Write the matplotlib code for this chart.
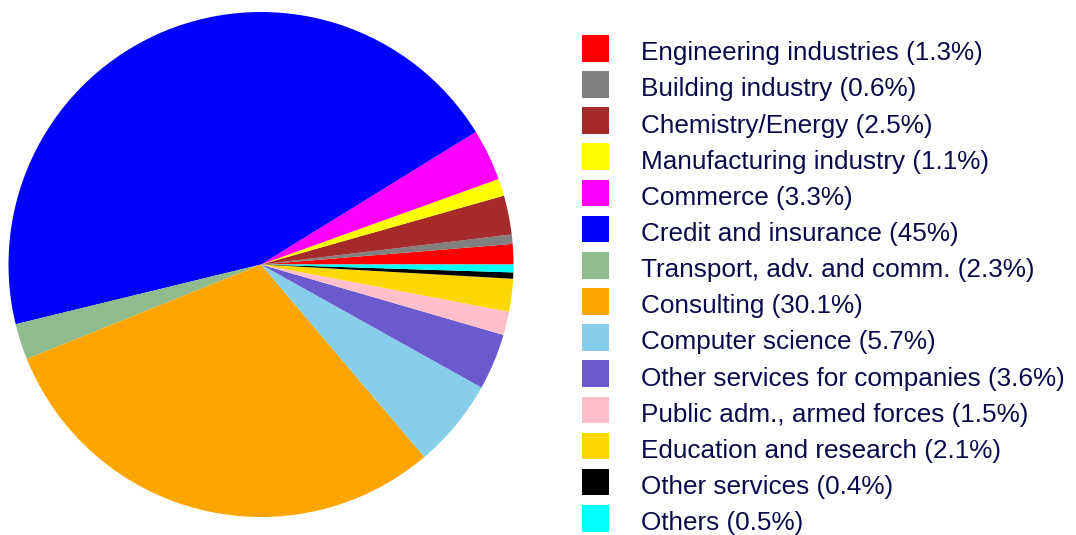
import matplotlib
matplotlib.use("Agg")
import matplotlib.pyplot as plt
from matplotlib.patches import Rectangle

labels = ["Engineering industries", "Building industry", "Chemistry/Energy",
          "Manufacturing industry", "Commerce", "Credit and insurance",
          "Transport, adv. and comm.", "Consulting", "Computer science",
          "Other services for companies", "Public adm., armed forces",
          "Education and research", "Other services", "Others"]
values = [1.3, 0.6, 2.5, 1.1, 3.3, 45, 2.3, 30.1, 5.7, 3.6, 1.5, 2.1, 0.4, 0.5]
value_labels = ["1.3%", "0.6%", "2.5%", "1.1%", "3.3%", "45%", "2.3%", "30.1%",
                "5.7%", "3.6%", "1.5%", "2.1%", "0.4%", "0.5%"]
colors = ["#FF0000", "#808080", "#A52A2A", "#FFFF00", "#FF00FF", "#0000FF",
          "#8FBC8F", "#FFA500", "#87CEEB", "#6A5ACD", "#FFC0CB", "#FFD700",
          "#000000", "#00FFFF"]

W, H = 1076, 535
fig = plt.figure(figsize=(W / 100, H / 100), dpi=100)

cx, cy, r = 261, 264.5, 252.5
ax = fig.add_axes([(cx - r) / W, (H - cy - r) / H, 2 * r / W, 2 * r / H])
ax.pie(values, colors=colors, startangle=0, counterclock=True,
       wedgeprops=dict(linewidth=0))
ax.set_xlim(-1, 1)
ax.set_ylim(-1, 1)
ax.set_aspect("auto")
ax.axis("off")

text_color = "#0a0a4a"
top0, dy, sq = 35, 36.15, 26.7
for i, (lab, vl, c) in enumerate(zip(labels, value_labels, colors)):
    top = top0 + i * dy
    fig.patches.append(Rectangle((582.3 / W, (H - top - sq) / H), sq / W, sq / H,
                                 transform=fig.transFigure, facecolor=c,
                                 edgecolor="none"))
    fig.text(641 / W, (H - top - 25.2) / H, f"{lab} ({vl})", fontsize=18.8,
             family="Liberation Sans", color=text_color, va="baseline", ha="left")

fig.savefig("out.png", dpi=100)
